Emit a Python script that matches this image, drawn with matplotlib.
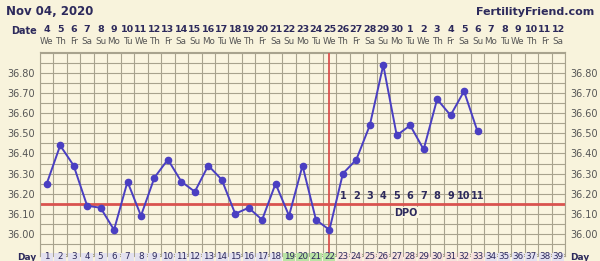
import numpy as np
import matplotlib.pyplot as plt
from matplotlib.patches import Rectangle
import matplotlib.transforms as mtransforms

days = np.arange(1, 34)
temps = [36.25, 36.44, 36.34, 36.14, 36.13, 36.02, 36.26, 36.09, 36.28, 36.37,
         36.26, 36.21, 36.34, 36.27, 36.10, 36.13, 36.07, 36.25, 36.09, 36.34,
         36.07, 36.02, 36.30, 36.37, 36.54, 36.84, 36.49, 36.54, 36.42, 36.67,
         36.59, 36.71, 36.51]
coverline = 36.15
ovulation_day = 22
dpo_labels = [str(i) for i in range(1, 12)]
dpo_days = list(range(23, 34))
date_nums = [str(d) for d in range(4, 31)] + [str(d) for d in range(1, 13)]
weekdays = ["We", "Th", "Fr", "Sa", "Su", "Mo", "Tu"]
n_days = 39
fertile_days = [19, 20, 21, 22]
luteal_days = list(range(23, 34))

bg = "#f8f3dc"
navy = "#2d2a5c"
gridc = "#a8a38e"
purple = "#4a3fc2"
red = "#d9534f"

fig = plt.figure(figsize=(6, 2.61), dpi=100, facecolor=bg)
ax = fig.add_axes([40/600, 1 - 256/261, 525/600, 204/261])
ax.set_facecolor("#faf5e0")
ax.set_xlim(0.5, n_days + 0.5)
ax.set_ylim(35.89, 36.905)

for x in np.arange(0.5, n_days + 1, 1):
    ax.axvline(x, color=gridc, lw=0.8, zorder=1)
for y in np.arange(35.90, 36.91, 0.05):
    ax.axhline(y, color=gridc, lw=0.8, zorder=1)
for s in ax.spines.values():
    s.set_color(gridc)
    s.set_linewidth(0.8)

yt = np.arange(36.0, 36.81, 0.1)
ax.set_yticks(yt)
ax.set_yticklabels([f"{v:.2f}" for v in yt])
ax.tick_params(axis="y", length=0, labelsize=7, labelcolor="#555555", pad=4,
               labelright=True)
ax.set_xticks([])

ax.axhline(coverline, color=red, lw=2, zorder=2)
ax.axvline(ovulation_day, color=red, lw=1.3, zorder=2)
ax.plot(days, temps, color=purple, lw=1.4, marker="o", ms=4.5, zorder=3)

for d, lab in zip(dpo_days, dpo_labels):
    ax.text(d, 36.19, lab, ha="center", va="center", fontsize=7,
            fontweight="bold", color=navy, zorder=4)
ax.text(27.7, 36.105, "DPO", ha="center", va="center", fontsize=7,
        fontweight="bold", color=navy, zorder=4,
        bbox=dict(facecolor="#faf5e0", edgecolor="none", pad=0.5))

trans = mtransforms.blended_transform_factory(ax.transData, ax.transAxes)
for i in range(n_days):
    ax.text(i + 1, 1.108, date_nums[i], transform=trans, ha="center",
            va="center", fontsize=6.8, fontweight="bold", color=navy,
            clip_on=False)
    ax.text(i + 1, 1.052, weekdays[i % 7], transform=trans, ha="center",
            va="center", fontsize=6.3, color="#555555", clip_on=False)

# day number row
for i in range(1, n_days + 1):
    if i in fertile_days:
        fc = "#b9e3a4"
    elif i in luteal_days:
        fc = "#f6e1dc"
    else:
        fc = "#e3e1ef"
    ax.add_patch(Rectangle((i - 0.45, -0.06), 0.9, 0.075, transform=trans,
                           facecolor=fc, edgecolor="none", clip_on=False,
                           zorder=5))
    ax.text(i, -0.003, str(i), transform=trans, ha="center", va="center",
            fontsize=6.3, color=navy, clip_on=False, zorder=6)

fig.text(27/600, 1 - 257/261, "Day", ha="center", va="center", fontsize=6.5,
         fontweight="bold", color=navy)
fig.text(580/600, 1 - 257/261, "Day", ha="center", va="center", fontsize=6.5,
         fontweight="bold", color=navy)
fig.text(24/600, 1 - 31/261, "Date", ha="center", va="center", fontsize=7,
         fontweight="bold", color=navy)
fig.text(6/600, 1 - 12/261, "Nov 04, 2020", ha="left", va="center",
         fontsize=8.5, fontweight="bold", color=navy)
fig.text(594/600, 1 - 12/261, "FertilityFriend.com", ha="right", va="center",
         fontsize=8, fontweight="bold", color=navy)

fig.savefig("out.png", dpi=100, facecolor=bg)
